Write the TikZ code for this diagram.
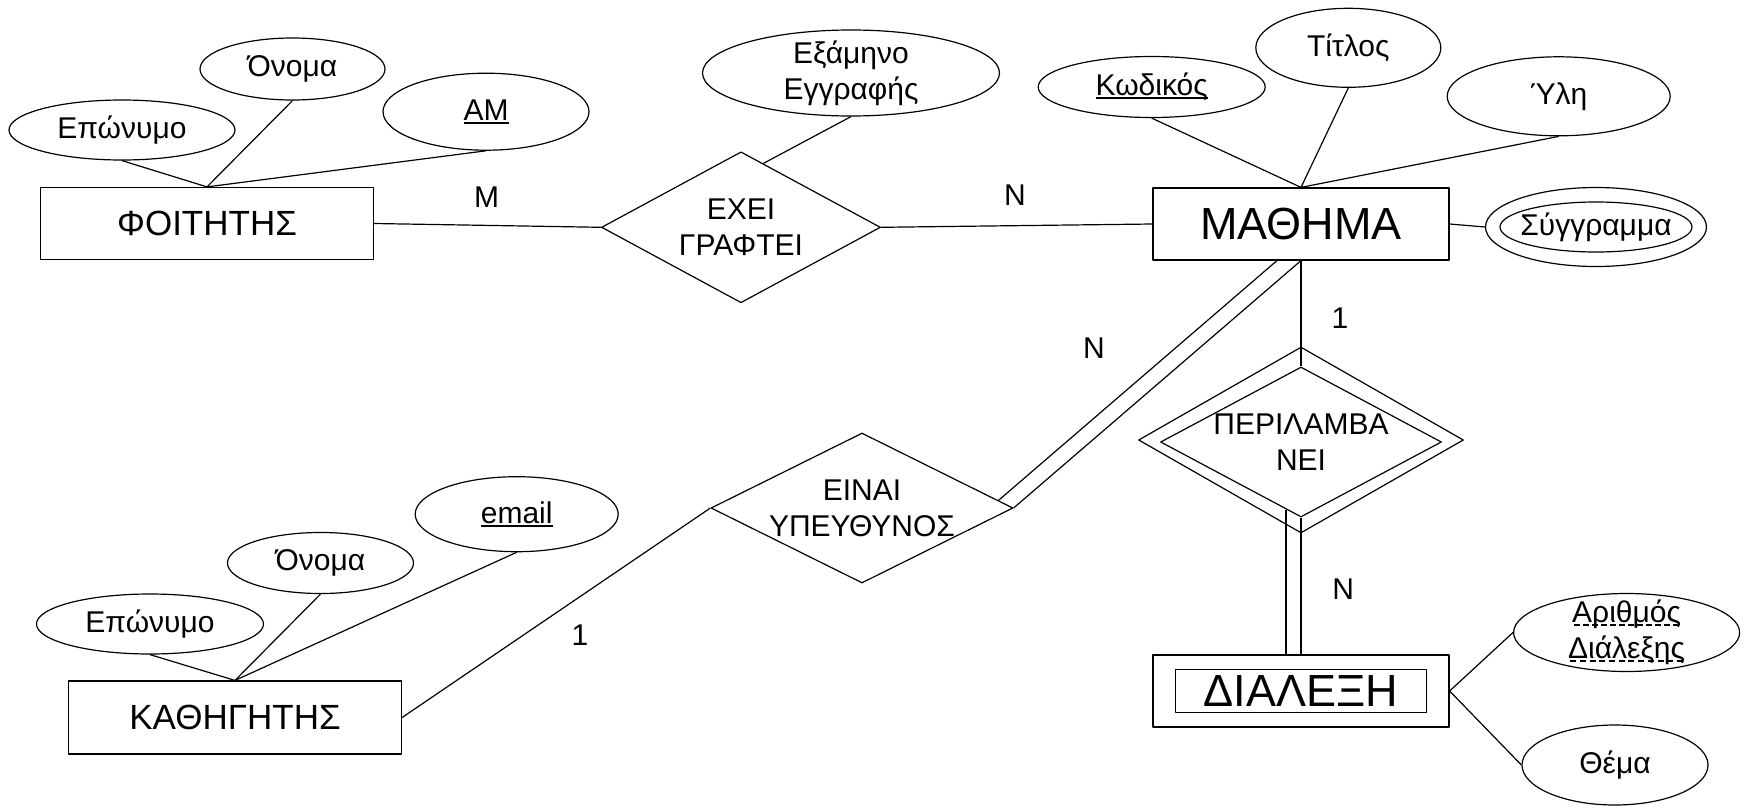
\documentclass[tikz,border=0pt]{standalone}
\usepackage{fontspec}
\setmainfont{Liberation Sans}
\usetikzlibrary{shapes.geometric,calc}
\newcommand{\attrfont}{\fontsize{30}{36}\selectfont}
\newcommand{\entfont}{\fontsize{35}{42}\selectfont}
\newcommand{\bigentfont}{\fontsize{45}{54}\selectfont}
\newcommand{\keyul}[1]{\setbox0\hbox{#1}\rlap{\vrule height -1.5pt depth 3pt width \wd0}\box0}
\newcommand{\partul}[1]{\setbox0\hbox{#1}\rlap{\hbox to \wd0{\xleaders\hbox to 9pt{\hss\vrule height -1.5pt depth 3pt width 6pt\hss}\hfill}}\box0}

\begin{document}
\begin{tikzpicture}[x=1pt, y=-1pt, line width=1.2pt, line join=round,
	ent/.style={draw, rectangle, inner sep=0pt, font=\entfont},
	attr/.style={draw, ellipse, inner sep=0pt, label={[font=\attrfont, align=center]center:#1}},
	rel/.style={draw, diamond, inner sep=0pt, label={[font=\attrfont, align=center]center:#1}},
	card/.style={font=\attrfont}]
	\useasboundingbox (0,0) rectangle (1745,806);
	% entities
	\node[ent, minimum width=333, minimum height=72] (foititis) at (207,223.5) {ΦΟΙΤΗΤΗΣ};
	\node[ent, font=\bigentfont, minimum width=296, minimum height=72] (mathima) at (1301,224) {ΜΑΘΗΜΑ};
	\node[ent, minimum width=333, minimum height=73] (kathigitis) at (235,717.5) {ΚΑΘΗΓΗΤΗΣ};
	\node[ent, minimum width=296, minimum height=72] (dialO) at (1301,691) {};
	\node[ent, font=\bigentfont, minimum width=251, minimum height=43] (dialeksi) at (dialO) {ΔΙΑΛΕΞΗ};
	% relationships
	\node[rel={ΕΧΕΙ\\ΓΡΑΦΤΕΙ}, minimum width=279, minimum height=151] (exei) at (741,227.3) {};
	\node[rel={ΕΙΝΑΙ\\ΥΠΕΥΘΥΝΟΣ}, minimum width=302, minimum height=150] (einai) at (862,508) {};
	\node[rel, minimum width=325, minimum height=186] (periO) at (1301,440) {};
	\node[rel={ΠΕΡΙΛΑΜΒΑ\\ΝΕΙ}, minimum width=281, minimum height=150] (peri) at (1301,442) {};
	% attributes
	\node[attr=Επώνυμο, minimum width=226, minimum height=60] (fEpw) at (122,130) {};
	\node[attr=Όνομα, minimum width=185, minimum height=62] (fOnoma) at (292.5,69) {};
	\node[attr=\keyul{AM}, minimum width=206, minimum height=77] (fAM) at (486,111.7) {};
	\node[attr={Εξάμηνο\\Εγγραφής}, minimum width=297, minimum height=86] (eksamino) at (851,73) {};
	\node[attr=\keyul{Κωδικός}, minimum width=227, minimum height=61] (kodikos) at (1151.7,87) {};
	\node[attr=Τίτλος, minimum width=185, minimum height=79] (titlos) at (1348.3,47.8) {};
	\node[attr=Ύλη, minimum width=223, minimum height=79] (yli) at (1558.7,96.3) {};
	\node[attr, minimum width=221, minimum height=79] (syggO) at (1596,227) {};
	\node[attr=Σύγγραμμα, minimum width=192, minimum height=50] (sygg) at (syggO) {};
	\node[attr=Επώνυμο, minimum width=227, minimum height=60] (kEpw) at (150,624) {};
	\node[attr=Όνομα, minimum width=186, minimum height=61] (kOnoma) at (320.5,563) {};
	\node[attr=\keyul{email}, minimum width=203, minimum height=75] (email) at (516.7,514.2) {};
	\node[attr={\partul{Αριθμός}\\\partul{Διάλεξης}}, minimum width=226, minimum height=78] (arithmos) at (1626.6,632.5) {};
	\node[attr=Θέμα, minimum width=186, minimum height=80] (thema) at (1615,765) {};
	% cardinalities
	\node[card] (cM) at (486.7,196.7) {M};
	\node[card] (cN1) at (1015,195) {N};
	\node[card] (cN2) at (1094,348) {N};
	\node[card] (c11) at (580,635) {1};
	\node[card] (c12) at (1340,318) {1};
	\node[card] (cN3) at (1343.3,589.3) {N};
	% connectors
	\coordinate (exeiNE) at ($(exei.north)!0.16!(exei.east)$);
	\coordinate (einaiNE) at ($(einai.east)!0.1!(einai.north)$);
	\coordinate (periSW) at ($(peri.south)!0.107!(peri.west)$);
	\draw (fEpw.south) -- (foititis.north) (fOnoma.south) -- (foititis.north) (fAM.south) -- (foititis.north);
	\draw (kodikos.south) -- (mathima.north) (titlos.south) -- (mathima.north) (yli.south) -- (mathima.north);
	\draw (kEpw.south) -- (kathigitis.north) (kOnoma.south) -- (kathigitis.north) (email.south) -- (kathigitis.north);
	\draw (foititis.east) -- (exei.west) (exei.east) -- (mathima.west) (eksamino.south) -- (exeiNE);
	\draw (mathima.east) -- (syggO.west);
	\draw (kathigitis.east) -- (einai.west);
	\draw (einai.east) -- (mathima.south) (einaiNE) -- ([xshift=-24pt]mathima.south);
	\draw (mathima.south) -- (peri.north);
	\draw (peri.south) -- (dialO.north) (periSW) -- (periSW |- dialO.north);
	\draw (dialO.east) -- (arithmos.west) (dialO.east) -- (thema.west);
\end{tikzpicture}
\end{document}
